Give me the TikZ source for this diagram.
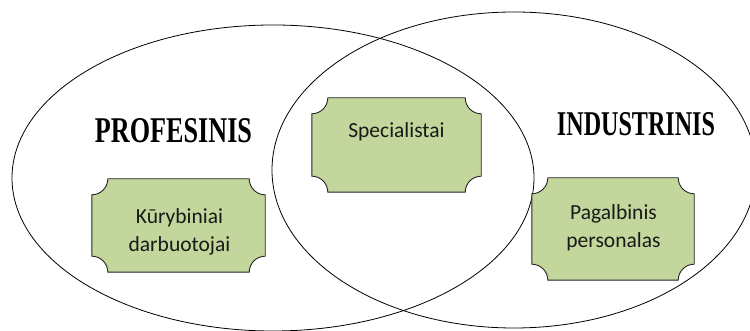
\documentclass[tikz,border=0pt]{standalone}
\usepackage{fontspec}
\setmainfont{Carlito}
\newfontfamily\setnamefont{Liberation Serif}
\usetikzlibrary{calc}
\definecolor{plaquegreen}{HTML}{C3D69B}
\tikzset{
  ring/.style={draw=black, line width=0.8pt},
  boxframe/.style={rectangle, inner sep=0pt, draw=none},
  plaqueline/.style={draw=black!85, line width=0.9pt, fill=plaquegreen},
  boxtext/.style={font=\fontsize{21.5}{28.5}\selectfont, align=center, text=black!90},
  setlabel/.style={font=\setnamefont\bfseries, anchor=base, inner sep=0pt}
}
% rectangle with concave quarter-circle corners around a named node
\newcommand\plaque[2]{%
  \path[plaqueline] ($(#1.north west)+(#2,0)$) -- ($(#1.north east)+(-#2,0)$)
    arc[start angle=180,end angle=270,radius=#2]
    -- ($(#1.south east)+(0,#2)$)
    arc[start angle=90,end angle=180,radius=#2]
    -- ($(#1.south west)+(#2,0)$)
    arc[start angle=0,end angle=90,radius=#2]
    -- ($(#1.north west)+(0,-#2)$)
    arc[start angle=270,end angle=360,radius=#2]
    -- cycle;}
\begin{document}
\begin{tikzpicture}[x=1pt,y=1pt]
  \useasboundingbox (0,0) rectangle (750,331);
  \clip (0,0) rectangle (750,331);
  \fill[white] (0,0) rectangle (750,331);

  % the two overlapping sets
  \draw[ring] (273,153) ellipse [x radius=261, y radius=153];
  \draw[ring] (514,161) ellipse [x radius=242, y radius=158];

  % set names
  \node[setlabel] (prof) at (173.5,188) {\resizebox{157pt}{24pt}{PROFESINIS}};
  \node[setlabel] (ind) at (636,195) {\resizebox{158pt}{23pt}{INDUSTRINIS}};

  % boxes
  \node[boxframe, minimum width=169pt, minimum height=94pt] (spec) at (396.5,186) {};
  \plaque{spec}{16pt}
  \node[boxtext, anchor=base] (spectext) at (396.5,193) {Specialistai};

  \node[boxframe, minimum width=173pt, minimum height=93pt] (kur) at (178.5,105.5) {};
  \plaque{kur}{16pt}
  \node[boxtext] (kurtext) at (179.5,99) {Kūrybiniai\\darbuotojai};

  \node[boxframe, minimum width=162pt, minimum height=102pt] (pag) at (613,102) {};
  \plaque{pag}{16pt}
  \node[boxtext] (pagtext) at (613.5,103) {Pagalbinis\\personalas};
\end{tikzpicture}
\end{document}
